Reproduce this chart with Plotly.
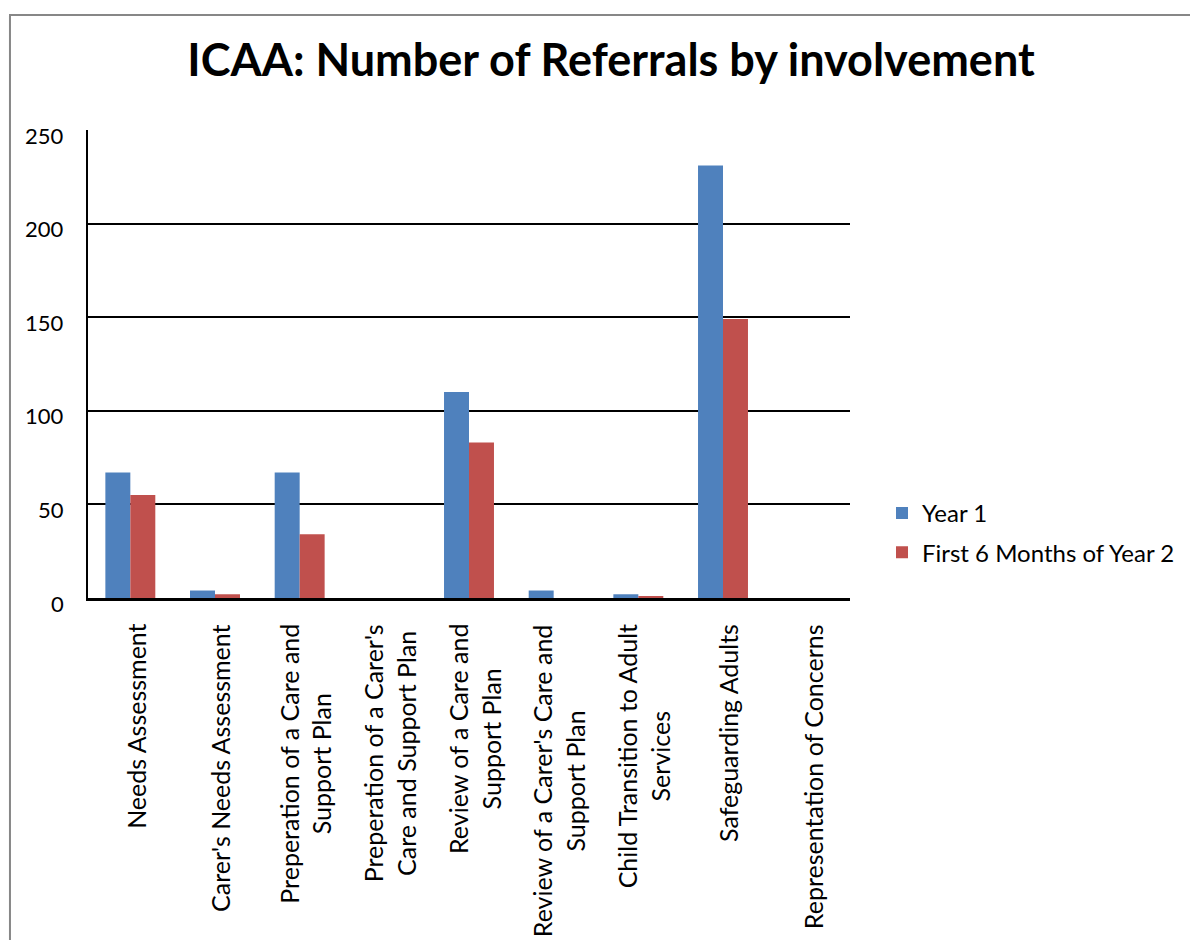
import plotly.graph_objects as go

categories = [
    "Needs Assessment",
    "Carer's Needs Assessment",
    "Preperation of a Care and<br>Support Plan",
    "Preperation of a Carer's<br>Care and Support Plan",
    "Review of a Care and<br>Support Plan",
    "Review of a Carer's Care and<br>Support Plan",
    "Child Transition to Adult<br>Services",
    "Safeguarding Adults",
    "Representation of Concerns",
]
cat_keys = [f"c{i}" for i in range(len(categories))]
year1 = [67, 4, 67, 0, 110, 4, 2, 231, 0]
year2 = [55, 2, 34, 0, 83, 0, 1, 149, 0]
series_names = ["Year 1", "First 6 Months of Year 2"]
colors = ["#4F81BD", "#C0504D"]
y_ticks = [0, 50, 100, 150, 200, 250]

FONT = "Lato, Carlito, Calibri, sans-serif"

fig = go.Figure()
for name, vals, col, grp in zip(series_names, [year1, year2], colors, ["a", "b"]):
    fig.add_trace(go.Bar(x=cat_keys, y=vals, name=name, marker_color=col,
                         marker_line_width=0, legendgroup=grp))

# category labels (rotated, centred multi-line like the original)
for key, lab in zip(cat_keys, categories):
    fig.add_annotation(x=key, xref="x", y=0, yref="paper", yshift=-24, xshift=5,
                       text=lab, textangle=-90, showarrow=False,
                       xanchor="center", yanchor="top", align="center",
                       font=dict(family=FONT, size=25, color="black"))

# y tick labels
for v in y_ticks:
    fig.add_annotation(x=0, xref="paper", y=v, yref="y", xshift=-22, yshift=-5,
                       text=str(v), showarrow=False, xanchor="right", yanchor="middle",
                       font=dict(family=FONT, size=22, color="black"))

fig.add_shape(type="rect", xref="paper", yref="paper",
              x0=-0.1024, y0=-0.76, x1=1.462, y1=1.2457,
              line=dict(color="#878787", width=2), fillcolor="rgba(0,0,0,0)", layer="below")

fig.update_layout(
    width=1190, height=932,
    margin=dict(l=80, r=348, t=122, b=342),
    paper_bgcolor="white", plot_bgcolor="white",
    barmode="group", bargap=0.41, bargroupgap=0,
    font=dict(family=FONT, size=22, color="black"),
    title=dict(text="<b>ICAA: Number of Referrals by involvement</b>",
               x=(611 - 8) / 1190, xanchor="center", y=1 - (60 - 8) / 932, yanchor="middle",
               font=dict(family=FONT, size=45, color="black")),
    legend=dict(x=1.042, xanchor="left", y=0.184 + 0.045, yanchor="top",
                font=dict(family=FONT, size=24, color="black"),
                tracegroupgap=5, bgcolor="rgba(0,0,0,0)"),
    showlegend=True,
)
fig.update_xaxes(showticklabels=False, ticks="", showline=True, linecolor="black",
                 linewidth=2.5, showgrid=False, fixedrange=True)
fig.update_yaxes(range=[0, 250], tickvals=y_ticks, showticklabels=False, showline=True,
                 linecolor="black", linewidth=1.5, showgrid=True, gridcolor="black",
                 gridwidth=2, zeroline=False, ticks="")

fig.write_html("out.html")
